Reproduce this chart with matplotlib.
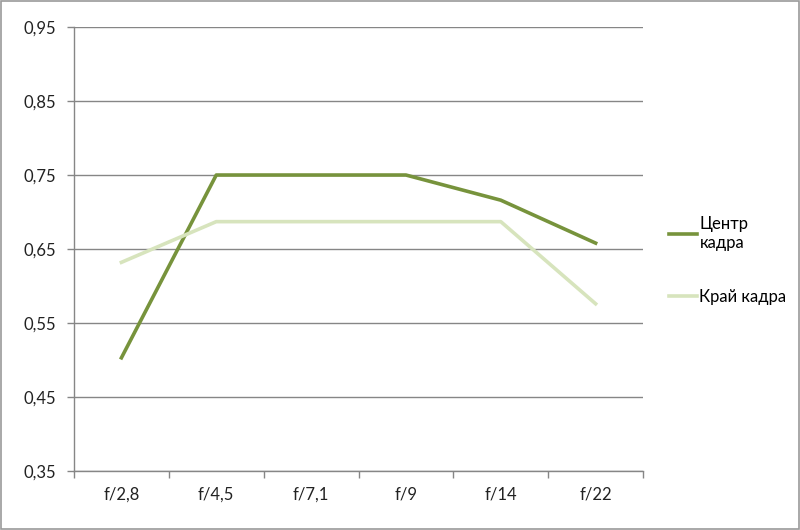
import matplotlib.pyplot as plt
from matplotlib.patches import Rectangle

# Aperture vs. sharpness, centre and edge of frame
APERTURES: list[str] = ["f/2,8", "f/4,5", "f/7,1", "f/9", "f/14", "f/22"]
CENTER: list[float] = [0.503, 0.750, 0.750, 0.750, 0.716, 0.658]
EDGE: list[float] = [0.632, 0.687, 0.687, 0.687, 0.687, 0.576]
Y_TICKS: list[float] = [0.35, 0.45, 0.55, 0.65, 0.75, 0.85, 0.95]

CENTER_COLOR = "#77933C"
EDGE_COLOR = "#D7E4BD"
GRID_COLOR = "#868686"

plt.rc("font", family=["Lato", "DejaVu Sans"], size=12)
fig = plt.figure(figsize=(8, 5.3), dpi=100)
ax = fig.add_axes([0.0925, 0.1113, 0.7113, 0.8377])

x = list(range(len(APERTURES)))
ax.plot(x, CENTER, color=CENTER_COLOR, linewidth=2.6, label="Центр\nкадра", solid_joinstyle="round")
ax.plot(x, EDGE, color=EDGE_COLOR, linewidth=2.6, label="Край кадра", solid_joinstyle="round")

ax.set_xlim(-0.5, len(APERTURES) - 0.5)
ax.set_ylim(Y_TICKS[0], Y_TICKS[-1])
ax.set_yticks(Y_TICKS)
ax.set_yticklabels([f"{v:.2f}".replace(".", ",") for v in Y_TICKS])
ax.set_xticks(x)
ax.set_xticklabels(APERTURES)
ax.set_xticks([i - 0.5 for i in range(len(APERTURES) + 1)], minor=True)
ax.tick_params(axis="x", which="major", length=0, pad=11, labelcolor="#222222")
ax.tick_params(axis="x", which="minor", length=5, color=GRID_COLOR, width=1)
ax.tick_params(axis="y", length=5, color=GRID_COLOR, width=1, pad=8, labelcolor="#222222")

ax.grid(axis="y", color=GRID_COLOR, linewidth=1)
ax.set_axisbelow(True)
for side in ["top", "right"]:
    ax.spines[side].set_visible(False)
for side in ["left", "bottom"]:
    ax.spines[side].set_color(GRID_COLOR)
    ax.spines[side].set_linewidth(1)

leg = fig.legend(loc="upper left", bbox_to_anchor=(0.817, 0.62), frameon=False,
                 handlelength=1.7, handletextpad=0.15, labelspacing=2.3, fontsize=12)

fig.add_artist(Rectangle((0.001, 0.001), 0.998, 0.997, transform=fig.transFigure,
                         fill=False, edgecolor="#9a9a9a", linewidth=1.2))

fig.savefig("out.png", dpi=100)
